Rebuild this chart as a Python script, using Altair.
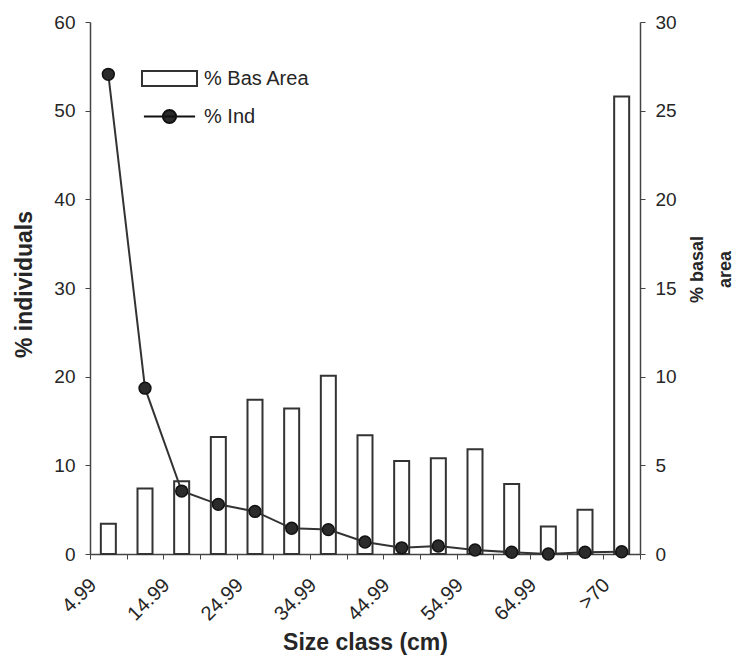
import altair as alt
import pandas as pd

categories = ["4.99", "9.99", "14.99", "19.99", "24.99", "29.99", "34.99", "39.99",
              "44.99", "49.99", "54.99", "59.99", "64.99", "69.99", ">70"]
shown_labels = ["4.99", "14.99", "24.99", "34.99", "44.99", "54.99", "64.99", ">70"]
pct_basal_area = [1.7, 3.7, 4.1, 6.6, 8.7, 8.2, 10.05, 6.7, 5.25, 5.4, 5.9, 3.95, 1.55, 2.5, 25.8]
pct_individuals = [54.1, 18.7, 7.1, 5.6, 4.8, 2.9, 2.75, 1.35, 0.7, 0.9, 0.45, 0.2, 0.0, 0.2, 0.25]
series_names = ["% Bas Area", "% Ind"]
left_ticks = [0, 10, 20, 30, 40, 50, 60]
right_ticks = [0, 5, 10, 15, 20, 25, 30]

df = pd.DataFrame({
    "cls": categories,
    "basal": pct_basal_area,
    "ind": pct_individuals,
    "sb": series_names[0],
    "si": series_names[1],
    "lab": [c if c in shown_labels else "" for c in categories],
})

FONT = "Liberation Sans, Arial, Helvetica, sans-serif"
AX = "#444444"
TXT = "#262626"
W, H = 550, 532
STEP = W / len(categories)

x_axis = alt.Axis(
    title="Size class (cm)", labels=False, tickBand="extent", tickSize=5,
    titleFontSize=23, titleFont=FONT, titleFontWeight="bold", titleColor=TXT,
    titleY=95, titleBaseline="alphabetic",
    domainColor=AX, tickColor=AX, domainWidth=1.5, grid=False,
)
x_scale = alt.Scale(paddingInner=0, paddingOuter=0)
x_enc = alt.X("cls:N", sort=categories, scale=x_scale, axis=x_axis)

rect_path = "M-1,-0.27H1V0.27H-1Z"
line_circle_path = ("M-0.93,0H0.93M0.24,0A0.24,0.24,0,1,1,-0.24,0"
                    "A0.24,0.24,0,1,1,0.24,0Z")

bars = alt.Chart(df).mark_bar(size=15, stroke="#333333", strokeWidth=2).encode(
    x=x_enc,
    y=alt.Y("basal:Q", scale=alt.Scale(domain=[0, 30], nice=False),
            axis=alt.Axis(orient="right", values=right_ticks, title=["% basal", "area"],
                          tickSize=5, labelPadding=10, labelFontSize=19, labelFont=FONT,
                          labelColor=TXT, titleFontSize=18, titleFont=FONT,
                          titleFontWeight="bold", titleColor=TXT, titleAngle=270,
                          titleAlign="center", titleBaseline="middle", titleX=57,
                          titleY=247, titleLineHeight=28, domainColor=AX, tickColor=AX,
                          domainWidth=1.5, grid=False)),
    fill=alt.Fill("sb:N", scale=alt.Scale(domain=[series_names[0]], range=["white"]),
                  legend=alt.Legend(orient="none", legendX=51, legendY=28, title=None,
                                    symbolType=rect_path, symbolSize=3025,
                                    symbolStrokeColor="#333333", symbolStrokeWidth=2,
                                    labelFontSize=20, labelFont=FONT, labelColor=TXT,
                                    labelOffset=6, padding=0)),
)

x_labels = alt.Chart(df).mark_text(
    angle=315, align="right", baseline="top", fontSize=20, font=FONT, color=TXT
).encode(
    x=x_enc, xOffset=alt.value(STEP / 2 - 22), y=alt.value(H + 21), text="lab:N"
)

y_left = alt.Y("ind:Q", scale=alt.Scale(domain=[0, 60], nice=False),
               axis=alt.Axis(orient="left", values=left_ticks, title="% individuals",
                             tickSize=5, labelPadding=10, labelFontSize=19, labelFont=FONT,
                             labelColor=TXT, titleFontSize=23, titleFont=FONT,
                             titleFontWeight="bold", titleColor=TXT, titleAngle=270,
                             titleAlign="center", titleBaseline="middle", titleX=-66,
                             titleY=262, domainColor=AX, tickColor=AX, domainWidth=1.5,
                             grid=False))

line = alt.Chart(df).mark_line(color="#333333", strokeWidth=2).encode(x=x_enc, y=y_left)
pts = alt.Chart(df).mark_point(filled=True, size=140, stroke="#111111", strokeWidth=1.5,
                               opacity=1).encode(
    x=x_enc, y=y_left,
    color=alt.Color("si:N", scale=alt.Scale(domain=[series_names[1]], range=["#2b2b2b"]),
                    legend=alt.Legend(orient="none", legendX=51, legendY=66, title=None,
                                      symbolType=line_circle_path, symbolSize=3025,
                                      symbolStrokeColor="#111111", symbolStrokeWidth=2,
                                      labelFontSize=20, labelFont=FONT, labelColor=TXT,
                                      labelOffset=6, padding=0)),
)

chart = alt.layer(bars, x_labels, alt.layer(line, pts)).resolve_scale(
    y="independent"
).properties(
    width=W, height=H,
    autosize=alt.AutoSizeParams(type="none"),
    padding={"left": 90, "top": 22, "right": 94, "bottom": 101},
    background="white",
).configure_view(stroke=None)

chart.save("out.html", embed_options={"renderer": "svg", "actions": False})
